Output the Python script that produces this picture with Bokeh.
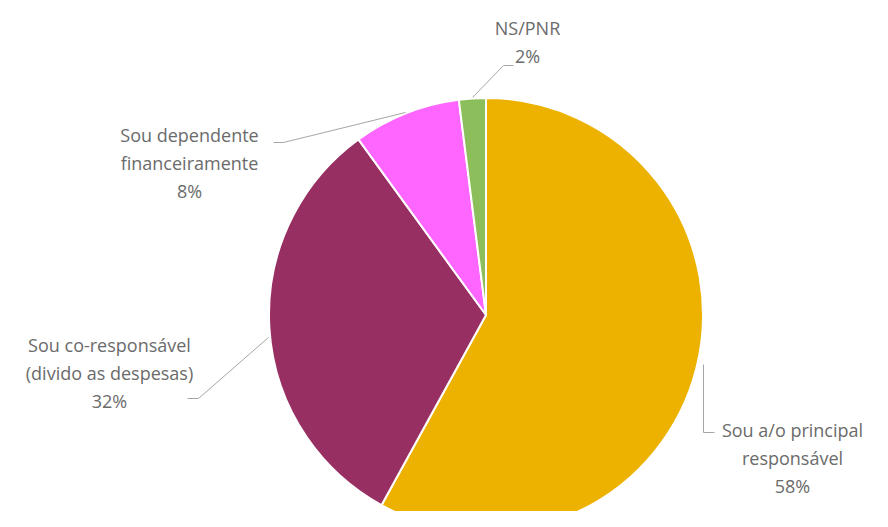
import math
from bokeh.plotting import figure
from bokeh.models import Range1d, ColumnDataSource
from bokeh.embed import file_html
from bokeh.resources import INLINE
from bokeh.core.properties import value

# ---- data ----
categories = ["Sou a/o principal responsável",
              "Sou co-responsável (divido as despesas)",
              "Sou dependente financeiramente",
              "NS/PNR"]
label_lines = [["Sou a/o principal", "responsável"],
               ["Sou co-responsável", "(divido as despesas)"],
               ["Sou dependente", "financeiramente"],
               ["NS/PNR"]]
values = [58, 32, 8, 2]
colors = ["#EDB100", "#982F63", "#FF66FF", "#8DBE5C"]

# ---- layout (pixel coordinates, y downward) ----
W, H = 872, 511
PAGE_H = 527
def Y(sy):
    return PAGE_H - sy

cx, cy, R = 485.5, 314.5, 217
label_centers = [(792, 429), (109, 344), (189, 134), (527, 27)]
line_gap = 28
leaders = [
    [(703, 364), (703, 432), (714, 432)],
    [(268, 337), (198, 398), (187, 398)],
    [(405, 112), (283, 142), (273, 142)],
    [(472, 97), (503, 65), (513, 65)],
]

p = figure(width=W, height=H, output_backend="svg", toolbar_location=None,
           x_range=Range1d(0, W), y_range=Range1d(PAGE_H - H, PAGE_H),
           min_border=0, outline_line_color=None)
p.axis.visible = False
p.grid.visible = False
p.background_fill_color = "white"

total = float(sum(values))
starts, ends = [], []
cum = 0.0
for v in values:
    starts.append(math.pi / 2 - 2 * math.pi * cum / total)
    cum += v
    ends.append(math.pi / 2 - 2 * math.pi * cum / total)

src = ColumnDataSource(dict(start=starts, end=ends, color=colors, cat=categories))
p.wedge(x=cx, y=Y(cy), radius=R, start_angle="start", end_angle="end",
        direction="clock", fill_color="color", line_color="white", line_width=2,
        source=src)

for pts in leaders:
    p.line([q[0] for q in pts], [Y(q[1]) for q in pts], line_color="#A6A6A6", line_width=1)

tx, ty, tt = [], [], []
for (lx, ly), lines, v in zip(label_centers, label_lines, values):
    allines = lines + [f"{v}%"]
    for i, t in enumerate(allines):
        tx.append(lx)
        ty.append(Y(ly + i * line_gap))
        tt.append(t)
p.text(x=tx, y=ty, text=tt, text_align="center", text_baseline="middle",
       text_font=value("Open Sans"), text_font_size="18px", text_color="#6B6B6B")

open("out.html", "w").write(file_html(p, INLINE))
